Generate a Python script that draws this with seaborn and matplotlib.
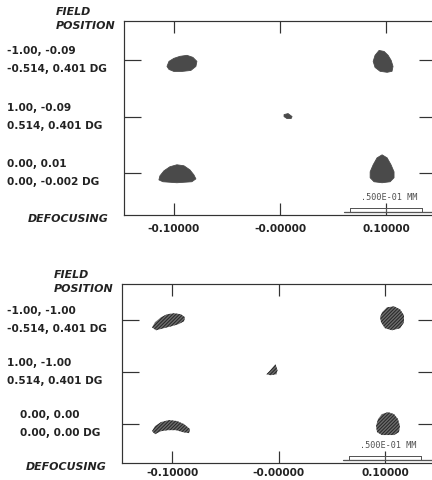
import matplotlib
matplotlib.use("Agg")
import matplotlib.pyplot as plt
from matplotlib.patches import Polygon
from matplotlib.transforms import Affine2D, ScaledTranslation
import seaborn as sns

sns.set_theme(style="ticks", rc={
    "xtick.direction": "in",
    "ytick.direction": "in",
    "axes.edgecolor": "#333333",
    "axes.linewidth": 1.2,
    "xtick.color": "#333333",
    "ytick.color": "#333333",
})
plt.rcParams["font.family"] = ["DejaVu Sans"]

# defocus columns and field rows
defocus = [-0.1, 0.0, 0.1]
defocus_labels = ["-0.10000", "-0.00000", "0.10000"]
field_rows = [0, 1, 2]

top_field_rel = ["-1.00, -0.09", "1.00, -0.09", "0.00, 0.01"]
top_field_deg = ["-0.514, 0.401 DG", "0.514, 0.401 DG", "0.00, -0.002 DG"]
bottom_field_rel = ["-1.00, -1.00", "1.00, -1.00", "0.00, 0.00"]
bottom_field_deg = ["-0.514, 0.401 DG", "0.514, 0.401 DG", "0.00, 0.00 DG"]

scale_bar_um = 50
scale_bar_label = ".500E-01 MM"

# spots: column, row, centroid shift (um) and outline (um, x right / y up)
top_spot_defocus = [-0.1, 0.1, 0.0, -0.1, 0.1]
top_spot_row = [0, 0, 1, 2, 2]
top_spot_shift = [(5.6, -2.1), (-2.1, -0.7), (5.6, 0.0), (2.1, 0.0), (-2.8, 2.8)]
top_spot_outline = [
    [(-10.4, -2.1), (-9.0, 1.4), (-5.6, 3.5), (-1.4, 4.9), (3.5, 5.6), (7.6, 4.2),
     (10.4, 1.4), (9.7, -2.1), (6.2, -4.9), (0.0, -5.6), (-5.6, -5.6), (-9.0, -4.2)],
    [(-2.8, 7.6), (0.7, 6.9), (3.5, 4.2), (5.6, 0.7), (6.9, -3.5), (6.2, -6.9),
     (2.8, -7.6), (-2.1, -6.9), (-5.6, -4.2), (-6.9, 0.0), (-5.6, 4.2)],
    [(-2.8, 1.4), (0.0, 2.1), (2.8, 0.0), (2.1, -1.4), (-0.7, -1.4), (-2.8, 0.0)],
    [(-12.5, -4.9), (-11.8, -2.1), (-9.0, 1.4), (-4.9, 4.2), (0.0, 5.6), (4.9, 4.9),
     (9.0, 2.1), (11.8, -1.4), (13.2, -4.2), (10.4, -6.2), (0.0, -6.9), (-9.7, -6.2)],
    [(0.0, 9.7), (3.5, 7.6), (6.2, 2.8), (8.3, -2.1), (8.3, -6.2), (5.6, -9.0),
     (0.0, -9.7), (-5.6, -9.0), (-8.3, -6.2), (-8.3, -2.1), (-6.2, 2.8), (-3.5, 7.6)],
]

bottom_spot_defocus = [-0.1, 0.1, 0.0, -0.1, 0.1]
bottom_spot_row = [0, 0, 1, 2, 2]
bottom_spot_shift = [(-2.1, -0.7), (4.9, 1.4), (-4.2, 1.4), (-0.7, -2.1), (2.1, 0.0)]
bottom_spot_outline = [
    [(-11.8, -4.2), (-9.7, -0.7), (-5.6, 2.8), (-1.4, 4.9), (3.5, 5.6), (8.3, 4.9),
     (11.1, 2.8), (10.4, 0.0), (6.2, -2.1), (1.4, -3.5), (-4.2, -4.9), (-9.0, -6.2)],
    [(-6.9, 4.2), (-3.5, 7.6), (1.4, 8.3), (5.6, 6.2), (8.3, 2.1), (8.3, -2.8),
     (5.6, -6.9), (0.0, -8.3), (-4.9, -6.9), (-7.6, -2.8), (-8.3, 0.7)],
    [(2.1, 4.2), (3.5, 0.0), (2.8, -2.8), (-1.4, -3.5), (-4.2, -2.8), (-2.1, -0.7)],
    [(-13.2, -2.8), (-11.1, 0.7), (-6.9, 3.5), (-1.4, 4.9), (4.2, 4.2), (9.0, 2.1),
     (13.2, -1.4), (12.5, -4.2), (8.3, -3.5), (3.5, -2.1), (-2.1, -2.1), (-6.9, -2.8),
     (-11.1, -4.9)],
    [(0.0, 8.3), (4.2, 6.9), (6.9, 3.5), (8.3, -1.4), (7.6, -5.6), (4.2, -7.6),
     (-4.2, -7.6), (-7.6, -5.6), (-8.3, -1.4), (-6.9, 3.5), (-4.2, 6.9)],
]

fig = plt.figure(figsize=(6, 480 / 72), dpi=72)
ax_top = fig.add_axes([124 / 432, 265 / 480, 312 / 432, 194 / 480])
ax_bot = fig.add_axes([122 / 432, 17 / 480, 313 / 432, 179 / 480])

# 50 um of spot size = 1 inch on the page
um = Affine2D().scale(1.0 / scale_bar_um) + fig.dpi_scale_trans
XLIM = (-0.147, 0.147)
YLIM = (2.75, -0.7)
text_kw = dict(color="#222222", fontsize=10.5, fontweight="bold")
head_kw = dict(color="#222222", fontsize=11, fontweight="bold", fontstyle="italic")


def draw_panel(ax, spot_defocus, spot_row, spot_shift, spot_outline, rel, deg,
               spot_style, tick_pad, indents):
    ax.set_xlim(*XLIM)
    ax.set_ylim(*YLIM)
    ax.set_xticks(defocus)
    ax.set_xticklabels(defocus_labels, **text_kw)
    ax.set_yticks(field_rows)
    ax.set_yticklabels([])
    ax.tick_params(axis="x", top=True, bottom=True, length=12, width=1.2, pad=tick_pad)
    ax.tick_params(axis="y", left=True, right=True, length=17, width=1.2)
    for s in ax.spines.values():
        s.set_visible(True)

    for d, r, (sx, sy), outline in zip(spot_defocus, spot_row, spot_shift, spot_outline):
        trans = um + ScaledTranslation(d, r, ax.transData)
        pts = [(x + sx, y + sy) for x, y in outline]
        ax.add_patch(Polygon(pts, closed=True, transform=trans, joinstyle="round", **spot_style))

    # scale bar under the +0.1 column
    bar = um + ScaledTranslation(defocus[-1], YLIM[0], ax.transData)
    half = scale_bar_um / 2
    ax.plot([-half, half], [4.6, 4.6], color="#555555", lw=1, transform=bar)
    for bx in (-half, 0, half):
        ax.plot([bx, bx], [4.6, 1.8], color="#555555", lw=1, transform=bar)
    ax.plot([-29, 40], [1.8, 1.8], color="#555555", lw=1.3, transform=bar, clip_on=False)
    ax.annotate(scale_bar_label, xy=(defocus[-1], YLIM[0]), xytext=(3, 17.5),
                textcoords="offset points", ha="center", va="center",
                family="DejaVu Sans Mono", fontsize=8.5, color="#505050")

    # field position labels on the left
    for r, a, b, ind in zip(field_rows, rel, deg, indents):
        ax.annotate(a, xy=(0, r), xycoords=("axes fraction", "data"), xytext=(ind, 9),
                    textcoords="offset points", ha="left", va="center", **text_kw)
        ax.annotate(b, xy=(0, r), xycoords=("axes fraction", "data"), xytext=(ind, -9),
                    textcoords="offset points", ha="left", va="center", **text_kw)

    ax.annotate("FIELD", xy=(0, 1), xycoords="axes fraction", xytext=(-68, 9),
                textcoords="offset points", ha="left", va="center", **head_kw)
    ax.annotate("POSITION", xy=(0, 1), xycoords="axes fraction", xytext=(-68, -5),
                textcoords="offset points", ha="left", va="center", **head_kw)
    ax.annotate("DEFOCUSING", xy=(0, 0), xycoords="axes fraction", xytext=(-96, -4),
                textcoords="offset points", ha="left", va="center", **head_kw)


draw_panel(ax_top, top_spot_defocus, top_spot_row, top_spot_shift, top_spot_outline,
           top_field_rel, top_field_deg,
           dict(facecolor="#4a4a4a", edgecolor="#4a4a4a", lw=0.8),
           tick_pad=9, indents=[-117, -117, -117])
draw_panel(ax_bot, bottom_spot_defocus, bottom_spot_row, bottom_spot_shift, bottom_spot_outline,
           bottom_field_rel, bottom_field_deg,
           dict(facecolor="#6c6c6c", edgecolor="#262626", lw=0, hatch="///////"),
           tick_pad=5, indents=[-115, -115, -102])

fig.savefig("out.png", dpi=72, facecolor="white")
